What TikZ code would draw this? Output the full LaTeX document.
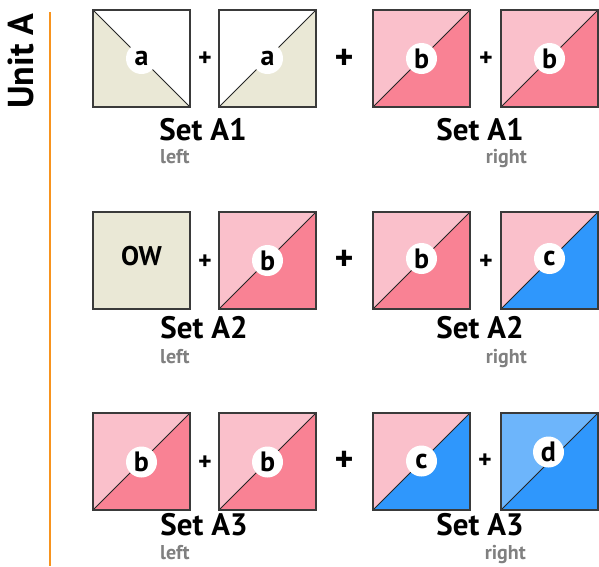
\documentclass[tikz,border=0pt]{standalone}
\usepackage{fontspec}
\setmainfont{PT Sans}
\definecolor{beige}{HTML}{EAE8D6}
\definecolor{lpink}{HTML}{FAC0CB}
\definecolor{dpink}{HTML}{F98294}
\definecolor{blueA}{HTML}{2F97FC}
\definecolor{lblue}{HTML}{6DB5FB}
\definecolor{edgec}{HTML}{3A3A3A}
\definecolor{orangeA}{HTML}{F7931E}
\definecolor{greyA}{HTML}{808080}
\tikzset{
  sqbox/.style={draw=edgec, line width=1.4pt},
  diagline/.style={draw=black!85, line width=1pt},
  letter/.style={circle, fill=white, minimum size=31pt, inner sep=0pt, font=\bfseries\fontsize{28}{28}\selectfont},
  smallplus/.style={font=\bfseries\fontsize{26}{26}\selectfont, inner sep=0pt},
  bigplus/.style={font=\bfseries\fontsize{36}{36}\selectfont, inner sep=0pt},
  setlab/.style={font=\bfseries\fontsize{31}{31}\selectfont, inner sep=0pt, anchor=base},
  sidelab/.style={font=\bfseries\fontsize{20}{20}\selectfont, text=greyA, inner sep=0pt},
}
% square with diagonal from bottom-left to top-right: x, y, upper-left colour, lower-right colour
\newcommand\squp[4]{%
  \fill[#3] (#1,#2) -- (#1+97,#2) -- (#1,#2+97) -- cycle;
  \fill[#4] (#1+97,#2) -- (#1+97,#2+97) -- (#1,#2+97) -- cycle;
  \draw[diagline] (#1,#2+97) -- (#1+97,#2);
  \draw[sqbox] (#1,#2) rectangle (#1+97,#2+97);
}
% square with diagonal from top-left to bottom-right: x, y, upper-right colour, lower-left colour
\newcommand\sqdown[4]{%
  \fill[#3] (#1,#2) -- (#1+97,#2) -- (#1+97,#2+97) -- cycle;
  \fill[#4] (#1,#2) -- (#1,#2+97) -- (#1+97,#2+97) -- cycle;
  \draw[diagline] (#1,#2) -- (#1+97,#2+97);
  \draw[sqbox] (#1,#2) rectangle (#1+97,#2+97);
}
\begin{document}
\begin{tikzpicture}[x=1pt,y=-1pt]
\useasboundingbox (0,0) rectangle (599,566);
% unit label and rule
\node[rotate=90, font=\bfseries\fontsize{36}{36}\selectfont, inner sep=0pt] (unit) at (21,61) {Unit A};
\coordinate (ruletop) at (50,12);
\coordinate (rulebot) at (50,566);
\draw[orangeA, line width=2pt] (ruletop) -- (rulebot);

% ---- row 1
\sqdown{93}{10}{white}{beige}
\squp{219}{10}{white}{beige}
\squp{373}{10}{lpink}{dpink}
\squp{501}{10}{lpink}{dpink}
\node[letter] (r1a) at (141.5,58.5) {a};
\node[letter] (r1b) at (267.5,58.5) {a};
\node[letter] (r1c) at (421.5,58.5) {b};
\node[letter] (r1d) at (549.5,58.5) {b};
\node[smallplus] (p1a) at (205,59) {+};
\node[bigplus] (p1b) at (344,59) {+};
\node[smallplus] (p1c) at (486,59) {+};
\node[setlab] (s1l) at (203,140) {Set A1};
\node[setlab] (s1r) at (480,140) {Set A1};
\node[sidelab, anchor=base west] (l1) at (160,163) {left};
\node[sidelab, anchor=base east] (rt1) at (527,163) {right};

% ---- row 2
\fill[beige] (93,212) rectangle (190,309);
\draw[sqbox] (93,212) rectangle (190,309);
\node[font=\bfseries\fontsize{27}{27}\selectfont] (ow) at (141.5,256) {OW};
\squp{219}{212}{lpink}{dpink}
\squp{373}{212}{lpink}{dpink}
\squp{501}{212}{lpink}{blueA}
\node[letter] (r2b) at (267.5,260.5) {b};
\node[letter] (r2c) at (421.5,258.5) {b};
\node[letter] (r2d) at (549.5,258.5) {c};
\node[smallplus] (p2a) at (205,262) {+};
\node[bigplus] (p2b) at (344,260) {+};
\node[smallplus] (p2c) at (486,262) {+};
\node[setlab] (s2l) at (204,338) {Set A2};
\node[setlab] (s2r) at (480,338) {Set A2};
\node[sidelab, anchor=base west] (l2) at (160,363) {left};
\node[sidelab, anchor=base east] (rt2) at (527,363) {right};

% ---- row 3
\squp{93}{413}{lpink}{dpink}
\squp{219}{413}{lpink}{dpink}
\squp{373}{413}{lpink}{blueA}
\squp{501}{413}{lblue}{blueA}
\node[letter] (r3a) at (141.5,462) {b};
\node[letter] (r3b) at (267.5,462) {b};
\node[letter] (r3c) at (421.5,461) {c};
\node[letter] (r3d) at (548.5,452) {d};
\node[smallplus] (p3a) at (205,463) {+};
\node[bigplus] (p3b) at (344,461) {+};
\node[smallplus] (p3c) at (485,461) {+};
\node[setlab] (s3l) at (204,535) {Set A3};
\node[setlab] (s3r) at (480,535) {Set A3};
\node[sidelab, anchor=base west] (l3) at (160,559) {left};
\node[sidelab, anchor=base east] (rt3) at (526,559) {right};
\end{tikzpicture}
\end{document}
